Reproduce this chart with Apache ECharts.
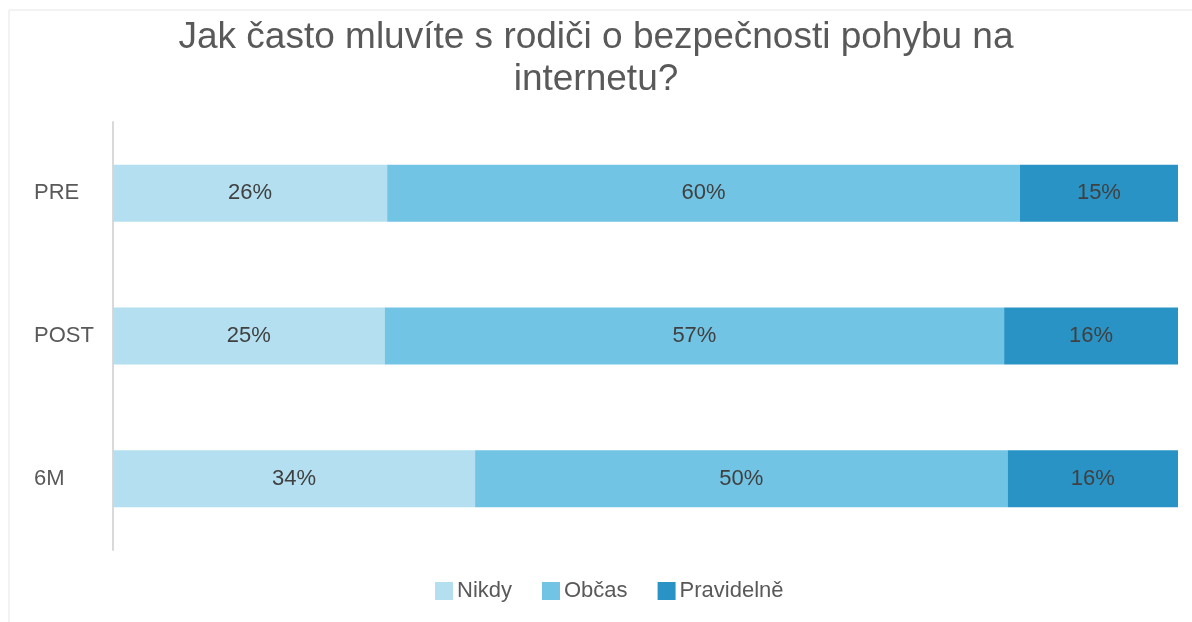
<!DOCTYPE html>
<html>
<head>
<meta charset="utf-8">
<script src="https://cdn.jsdelivr.net/npm/echarts@6/dist/echarts.min.js"></script>
<style>
  html, body { margin: 0; padding: 0; background: #fff; }
  #chart { width: 1192px; height: 622px; }
</style>
</head>
<body>
<div id="chart"></div>
<script>
const categories = ["PRE", "POST", "6M"];
const seriesNames = ["Nikdy", "Občas", "Pravidelně"];
const nikdy = [26, 25, 34];
const obcas = [60, 57, 50];
const pravidelne = [15, 16, 16];
const colors = ["#b3dff0", "#72c4e4", "#2a93c6"];

const raw = [nikdy, obcas, pravidelne];
// 100% stacked: each row scaled to its own total
const totals = categories.map((_, i) => raw.reduce((acc, cur) => acc + cur[i], 0));

const chart = echarts.init(document.getElementById("chart"));

const option = {
  backgroundColor: "#fff",
  animation: false,
  textStyle: { fontFamily: "Liberation Sans, Arial, sans-serif" },
  title: {
    text: "Jak často mluvíte s rodiči o bezpečnosti pohybu na\ninternetu?",
    left: "center",
    top: 12,
    padding: [5, 0, 5, 20],
    textStyle: {
      fontSize: 37,
      fontWeight: "normal",
      color: "#595959",
      lineHeight: 42,
    },
  },
  graphic: [
    {
      type: "polyline",
      shape: { points: [[9, 622], [9, 10], [1192, 10]] },
      style: { stroke: "#e6e6e6", lineWidth: 1, fill: null },
      silent: true,
    },
  ],
  legend: {
    bottom: 15,
    left: 430,
    itemWidth: 18,
    itemHeight: 18,
    itemGap: 30,
    icon: "rect",
    textStyle: { fontSize: 22, color: "#595959", padding: [0, 0, 0, -1] },
    data: seriesNames,
  },
  grid: {
    left: 113,
    right: 14,
    top: 122,
    bottom: 72,
  },
  xAxis: {
    type: "value",
    min: 0,
    max: 1,
    show: false,
  },
  yAxis: {
    type: "category",
    data: categories,
    inverse: true,
    axisLine: { show: true, lineStyle: { color: "#d9d9d9", width: 2 } },
    axisTick: { show: false },
    axisLabel: {
      align: "left",
      margin: 79,
      fontSize: 22,
      color: "#595959",
    },
  },
  series: seriesNames.map((name, k) => ({
    name,
    type: "bar",
    stack: "total",
    barWidth: "40%",
    itemStyle: { color: colors[k] },
    label: {
      show: true,
      position: "inside",
      fontSize: 22,
      color: "#404040",
      formatter: (p) => raw[k][p.dataIndex] + "%",
    },
    data: raw[k].map((v, i) => v / totals[i]),
  })),
};

chart.setOption(option);
</script>
</body>
</html>
